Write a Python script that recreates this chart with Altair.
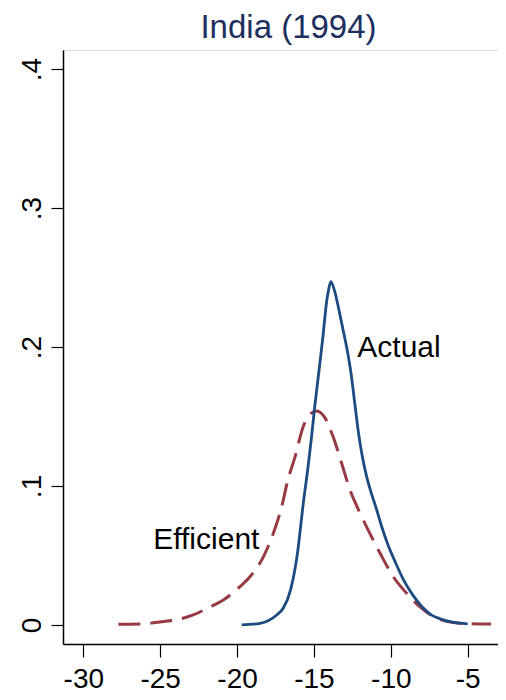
import altair as alt
import pandas as pd

# Actual (solid navy)
actual_x = [-19.70, -18.51, -17.42, -17.00, -16.50, -16.02, -15.91, -15.71, -15.38, -15.16,
            -14.95, -14.66, -14.40, -14.19, -14.05, -13.90, -13.65, -13.40, -13.10, -12.84,
            -12.60, -12.35, -12.10, -11.85, -11.60, -11.30, -10.95, -10.60, -10.20, -9.70,
            -9.20, -8.60, -8.00, -7.40, -6.80, -6.00, -5.00]
actual_y = [0.000, 0.0012, 0.0072, 0.012, 0.026, 0.056, 0.0665, 0.086, 0.114, 0.135,
            0.157, 0.184, 0.209, 0.2314, 0.241, 0.247, 0.240, 0.228, 0.212, 0.198,
            0.182, 0.160, 0.138, 0.121, 0.108, 0.096, 0.084, 0.071, 0.058, 0.045,
            0.033, 0.022, 0.0135, 0.0075, 0.0045, 0.002, 0.0008]

# Efficient (dashed maroon)
eff_x = [-27.72, -26.10, -25.34, -23.82, -22.85, -21.76, -20.89, -19.81, -19.16, -18.29,
         -17.64, -17.10, -16.70, -16.23, -15.69, -15.20, -14.82, -14.28, -13.74, -13.19,
         -12.65, -12.11, -11.46, -10.70, -9.84, -8.97, -8.10, -7.01, -5.93, -4.20, -3.48]
eff_y = [0.0005, 0.0007, 0.0017, 0.004, 0.0072, 0.013, 0.018, 0.0276, 0.0347, 0.049,
         0.066, 0.085, 0.104, 0.121, 0.143, 0.152, 0.154, 0.149, 0.135, 0.116,
         0.097, 0.083, 0.068, 0.0516, 0.0347, 0.0228, 0.013, 0.0048, 0.0017, 0.0007, 0.0007]

label_text = ["Actual", "Efficient"]
label_x = [-9.47, -22.0]
label_y = [0.1928, 0.0545]

x_ticks = [-30, -25, -20, -15, -10, -5]
y_ticks = [0, 0.1, 0.2, 0.3, 0.4]

FONT = "Liberation Sans"

df_a = pd.DataFrame({"x": actual_x, "y": actual_y})
df_e = pd.DataFrame({"x": eff_x, "y": eff_y})
df_l = pd.DataFrame({"x": label_x, "y": label_y, "t": label_text})

xscale = alt.Scale(domain=[-31.32, -3.03], nice=False, zero=False)
yscale = alt.Scale(domain=[-0.0137, 0.4137], nice=False, zero=False)

xaxis = alt.Axis(values=x_ticks, title=None, grid=False, tickSize=13, tickColor="black",
                 tickWidth=1.2, domainColor="black", domainWidth=1.5, labelFont=FONT,
                 labelFontSize=28, labelColor="black", labelPadding=8, labelFlush=False,
                 labelExpr="datum.value < 0 ? '-' + abs(datum.value) : '' + datum.value")
yaxis = alt.Axis(values=y_ticks, title=None, grid=False, tickSize=12, tickColor="black",
                 tickWidth=1.2, domainColor="black", domainWidth=1.5, labelFont=FONT,
                 labelFontSize=28, labelColor="black", labelAngle=270, labelAlign="center",
                 labelBaseline="bottom", labelPadding=5, labelFlush=False,
                 labelExpr="datum.value == 0 ? '0' : replace(format(datum.value, '.1f'), '0.', '.')")

actual = alt.Chart(df_a).mark_line(color="#1b4b80", strokeWidth=2.8, interpolate="monotone").encode(
    x=alt.X("x:Q", scale=xscale, axis=xaxis),
    y=alt.Y("y:Q", scale=yscale, axis=yaxis),
)
eff = alt.Chart(df_e).mark_line(color="#983a43", strokeWidth=3, strokeDash=[22, 10],
                                interpolate="monotone").encode(
    x=alt.X("x:Q", scale=xscale),
    y=alt.Y("y:Q", scale=yscale),
)
labels = alt.Chart(df_l).mark_text(font=FONT, fontSize=30, color="black", align="center",
                                   baseline="alphabetic").encode(
    x=alt.X("x:Q", scale=xscale),
    y=alt.Y("y:Q", scale=yscale),
    text="t:N",
)

chart = alt.layer(eff, actual, labels).properties(
    width=435, height=594,
    title=alt.TitleParams("India (1994)", font=FONT, fontSize=33, fontWeight="normal",
                          color="#1c2f5e", anchor="middle", frame="group",
                          baseline="alphabetic", offset=13, dx=8, dy=34),
    autosize=alt.AutoSizeParams(type="none"),
    padding={"left": 55, "top": 42, "right": 0, "bottom": 48},
).configure_view(stroke=None).configure(background="white")

chart.save("out.html", embed_options={"renderer": "svg", "actions": False})
